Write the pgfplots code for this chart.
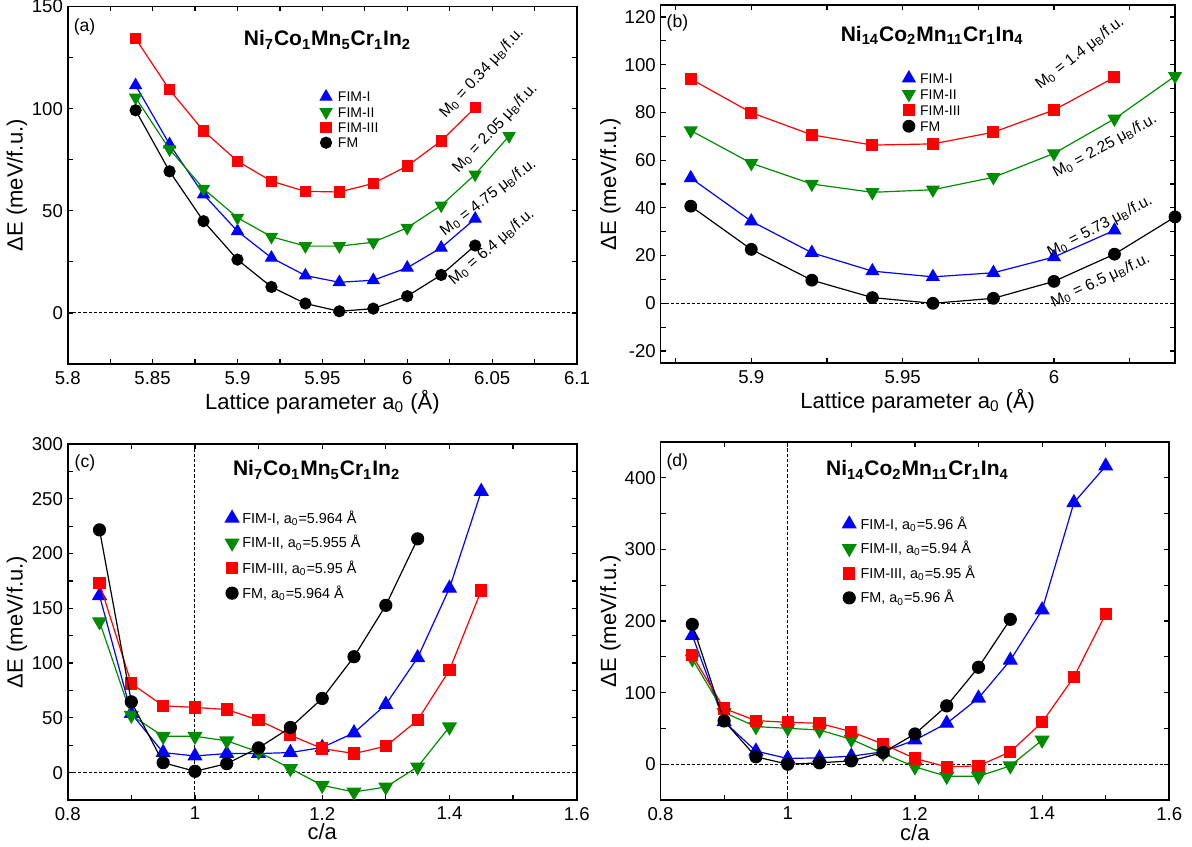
\documentclass[border=0pt]{standalone}
\usepackage{fontspec}
\setmainfont{Liberation Sans}
\usepackage{pgfplots}
\pgfplotsset{compat=1.18}

\definecolor{cblue}{RGB}{0,0,255}
\definecolor{cgreen}{RGB}{0,140,0}
\definecolor{cred}{RGB}{255,0,0}

\pgfplotsset{
  panel/.style={
    scale only axis, anchor=south west,
    axis line style={line width=0.9pt},
    tick align=inside, major tick length=2.5pt, minor tick length=2.5pt,
    every tick/.style={black, line width=0.6pt},
    tick label style={font=\fontsize{9.3}{11}\selectfont},
    yticklabel style={inner xsep=2.2pt},
    /pgf/number format/assume math mode=true,
    label style={font=\fontsize{11}{13}\selectfont},
    ylabel={ΔE (meV/f.u.)},
    clip mode=individual,
    legend image code/.code={\draw[##1,only marks] plot coordinates {(0pt,0pt)};},
    legend cell align=left,
    legend style={draw=none, fill=none, inner sep=0pt, outer sep=0pt, anchor=north west,
      font=\fontsize{7}{8}\selectfont,
      nodes={inner sep=0.5pt, text height=5.5pt, text depth=0.5pt}},
  },
  sI/.style={cblue, line width=0.6pt, mark=triangle*, mark size=#1, mark options={solid, fill=cblue}},
  sII/.style={cgreen, line width=0.6pt, mark=triangle*, mark size=#1, mark options={solid, fill=cgreen, rotate=180}},
  sIII/.style={cred, line width=0.6pt, mark=square*, mark size=#1, mark options={solid, fill=cred}},
  sFM/.style={black, line width=0.6pt, mark=*, mark size=#1, mark options={solid, fill=black}},
  zero/.style={black, line width=0.5pt, dash pattern=on 1.6pt off 1pt, forget plot},
}

\newcommand{\ann}{\fontsize{7.8}{9}\selectfont}
\newcommand{\ttl}{\bfseries\fontsize{10.5}{12}\selectfont}
\newcommand{\tag}{\fontsize{8.8}{10}\selectfont}

\begin{document}
\begin{tikzpicture}
\useasboundingbox (0,0) rectangle (596pt,423pt);

% (a)
\begin{axis}[panel, at={(33.85pt,241pt)}, width=254.65pt, height=178.75pt,
  xmin=5.8, xmax=6.1, ymin=-25, ymax=150,
  xtick={5.8,5.85,5.9,5.95,6,6.05,6.1},
  minor xtick={5.825,5.875,5.925,5.975,6.025,6.075},
  ytick={0,50,100,150}, minor ytick={25,75,125},
  xlabel={Lattice parameter a\textsubscript{0} (Å)},
  xlabel style={at={(axis description cs:0.5,-0.106)}, anchor=center},
  ylabel style={at={(axis description cs:-0.0995,0.5)}, anchor=center},
  legend style={at={(0.496,0.767)}, row sep=0.65pt, /tikz/column sep=2.6pt}]
\addplot[zero] coordinates {(5.8,0) (6.1,0)};
\addplot[sI=3.3pt] coordinates {(5.84,111.4) (5.86,82.5) (5.88,58.0) (5.90,40.0) (5.92,27.0) (5.94,18.3) (5.96,15.0) (5.98,16.0) (6.00,22.1) (6.02,31.9) (6.04,46.1)};
\addplot[sII=3.3pt] coordinates {(5.84,105.4) (5.86,80.1) (5.88,60.8) (5.90,46.6) (5.92,37.3) (5.94,32.7) (5.96,32.7) (5.98,34.6) (6.00,41.7) (6.02,52.6) (6.04,67.8) (6.06,86.6)};
\addplot[sIII=2.5pt] coordinates {(5.84,134.3) (5.86,109.2) (5.88,89.1) (5.90,74.3) (5.92,64.5) (5.94,59.5) (5.96,59.2) (5.98,63.4) (6.00,71.9) (6.02,84.2) (6.04,100.5)};
\addplot[sFM=2.75pt] coordinates {(5.84,99.2) (5.86,69.3) (5.88,44.9) (5.90,26.1) (5.92,12.7) (5.94,4.6) (5.96,0.8) (5.98,2.1) (6.00,8.2) (6.02,18.6) (6.04,33.0)};
\legend{FIM-I, FIM-II, FIM-III, FM}
\node[font=\ttl] at (rel axis cs:0.51,0.906) {Ni\textsubscript{7}Co\textsubscript{1}Mn\textsubscript{5}Cr\textsubscript{1}In\textsubscript{2}};
\node[font=\tag] at (rel axis cs:0.033,0.943) {(a)};
\node[font=\ann, rotate=47.5] at (axis cs:6.044,117.3) {M\textsubscript{0} = 0.34 μ\textsubscript{B}/f.u.};
\node[font=\ann, rotate=47] at (axis cs:6.0518,90.3) {M\textsubscript{0} = 2.05 μ\textsubscript{B}/f.u.};
\node[font=\ann, rotate=37.5] at (axis cs:6.0478,56.5) {M\textsubscript{0} = 4.75 μ\textsubscript{B}/f.u.};
\node[font=\ann, rotate=41] at (axis cs:6.0498,32.1) {M\textsubscript{0} = 6.4 μ\textsubscript{B}/f.u.};
\end{axis}

% (b)
\begin{axis}[panel, at={(330.25pt,241.5pt)}, width=257.25pt, height=179pt,
  xmin=5.87, xmax=6.04, ymin=-25, ymax=125,
  xtick={5.9,5.95,6}, minor xtick={5.875,5.925,5.975,6.025},
  ytick={-20,0,20,40,60,80,100,120}, minor ytick={-10,10,30,50,70,90,110},
  xlabel={Lattice parameter a\textsubscript{0} (Å)},
  xlabel style={at={(axis description cs:0.5,-0.106)}, anchor=center},
  ylabel style={at={(axis description cs:-0.0974,0.5)}, anchor=center},
  legend style={at={(0.471,0.815)}, row sep=1pt, /tikz/column sep=2.1pt}]
\addplot[zero] coordinates {(5.87,0) (6.04,0)};
\addplot[sI=3.5pt] coordinates {(5.88,52.5) (5.90,34.4) (5.92,21.2) (5.94,13.5) (5.96,11.1) (5.98,12.8) (6.00,19.4) (6.02,30.6)};
\addplot[sII=3.5pt] coordinates {(5.88,72.4) (5.90,58.7) (5.92,50.0) (5.94,46.5) (5.96,47.6) (5.98,52.8) (6.00,62.8) (6.02,77.3) (6.04,95.2)};
\addplot[sIII=2.7pt] coordinates {(5.88,94.0) (5.90,79.9) (5.92,70.6) (5.94,66.3) (5.96,66.8) (5.98,71.7) (6.00,81.0) (6.02,94.7)};
\addplot[sFM=2.9pt] coordinates {(5.88,40.7) (5.90,22.6) (5.92,9.7) (5.94,2.4) (5.96,0.0) (5.98,2.1) (6.00,9.2) (6.02,20.6) (6.04,36.2)};
\legend{FIM-I, FIM-II, FIM-III, FM}
\node[font=\ttl] at (rel axis cs:0.528,0.916) {Ni\textsubscript{14}Co\textsubscript{2}Mn\textsubscript{11}Cr\textsubscript{1}In\textsubscript{4}};
\node[font=\tag] at (rel axis cs:0.033,0.949) {(b)};
\node[font=\ann, rotate=38] at (axis cs:6.0086,104.8) {M\textsubscript{0} = 1.4 μ\textsubscript{B}/f.u.};
\node[font=\ann, rotate=29] at (axis cs:6.0169,65.8) {M\textsubscript{0} = 2.25 μ\textsubscript{B}/f.u.};
\node[font=\ann, rotate=27.5] at (axis cs:6.0152,32.1) {M\textsubscript{0} = 5.73 μ\textsubscript{B}/f.u.};
\node[font=\ann, rotate=25] at (axis cs:6.0154,9.4) {M\textsubscript{0} = 6.5 μ\textsubscript{B}/f.u.};
\end{axis}

% (c)
\begin{axis}[panel, at={(33.85pt,23pt)}, width=254.5pt, height=178pt,
  xmin=0.8, xmax=1.6, ymin=-25, ymax=300,
  xtick={0.8,1,1.2,1.4,1.6}, minor xtick={0.9,1.1,1.3,1.5},
  ytick={0,50,100,150,200,250,300}, minor ytick={25,75,125,175,225,275},
  xlabel={c/a},
  xlabel style={at={(axis description cs:0.5,-0.09)}, anchor=center},
  ylabel style={at={(axis description cs:-0.0996,0.5)}, anchor=center},
  legend style={at={(0.310,0.813)}, row sep=5.4pt, /tikz/column sep=1.35pt, font=\fontsize{7.2}{8}\selectfont}]
\addplot[zero] coordinates {(0.8,0) (1.6,0)};
\addplot[zero] coordinates {(1,-25) (1,300)};
\addplot[sI=3.8pt] coordinates {(0.85,161.6) (0.90,54.0) (0.95,18.3) (1.00,15.2) (1.05,17.4) (1.10,17.4) (1.15,18.3) (1.20,23.0) (1.25,36.3) (1.30,62.2) (1.35,104.9) (1.40,168.3) (1.45,256.7)};
\addplot[sII=3.8pt] coordinates {(0.85,137.8) (0.90,52.4) (0.95,33.2) (1.00,33.2) (1.05,29.0) (1.10,18.9) (1.15,3.7) (1.20,-11.6) (1.25,-17.7) (1.30,-13.1) (1.35,5.2) (1.40,41.8)};
\addplot[sIII=2.75pt] coordinates {(0.85,172.9) (0.90,81.4) (0.95,61.0) (1.00,59.5) (1.05,57.6) (1.10,47.9) (1.15,34.1) (1.20,22.0) (1.25,17.4) (1.30,24.1) (1.35,47.9) (1.40,93.6) (1.45,166.2)};
\addplot[sFM=3pt] coordinates {(0.85,221.6) (0.90,64.6) (0.95,9.1) (1.00,1.2) (1.05,8.2) (1.10,22.6) (1.15,41.2) (1.20,67.7) (1.25,105.8) (1.30,152.7) (1.35,213.4)};
\legend{{FIM-I, a\textsubscript{0}=5.964 Å}, {FIM-II, a\textsubscript{0}=5.955 Å}, {FIM-III, a\textsubscript{0}=5.95 Å}, {FM, a\textsubscript{0}=5.964 Å}}
\node[font=\ttl] at (rel axis cs:0.489,0.927) {Ni\textsubscript{7}Co\textsubscript{1}Mn\textsubscript{5}Cr\textsubscript{1}In\textsubscript{2}};
\node[font=\tag] at (rel axis cs:0.034,0.946) {(c)};
\end{axis}

% (d)
\begin{axis}[panel, at={(330.25pt,23pt)}, width=254.4pt, height=179pt,
  xmin=0.8, xmax=1.6, ymin=-50, ymax=450,
  xtick={0.8,1,1.2,1.4,1.6}, minor xtick={0.9,1.1,1.3,1.5},
  ytick={0,100,200,300,400}, minor ytick={50,150,250,350},
  xlabel={c/a},
  xlabel style={at={(axis description cs:0.5,-0.09)}, anchor=center},
  ylabel style={at={(axis description cs:-0.0985,0.5)}, anchor=center},
  legend style={at={(0.358,0.792)}, row sep=5.2pt, /tikz/column sep=1.9pt, font=\fontsize{7.2}{8}\selectfont}]
\addplot[zero] coordinates {(0.8,0) (1.6,0)};
\addplot[zero] coordinates {(1,-50) (1,450)};
\addplot[sI=3.8pt] coordinates {(0.85,179.9) (0.90,59.5) (0.95,18.3) (1.00,8.0) (1.05,8.9) (1.10,11.2) (1.15,17.3) (1.20,33.7) (1.25,57.1) (1.30,92.3) (1.35,145.2) (1.40,215.5) (1.45,365.3) (1.50,416.4)};
\addplot[sII=3.8pt] coordinates {(0.85,147.0) (0.90,72.1) (0.95,52.5) (1.00,50.1) (1.05,47.8) (1.10,34.7) (1.15,15.0) (1.20,-3.7) (1.25,-16.9) (1.30,-16.9) (1.35,-2.3) (1.40,33.7)};
\addplot[sIII=2.75pt] coordinates {(0.85,152.2) (0.90,77.8) (0.95,60.9) (1.00,58.5) (1.05,57.1) (1.10,45.4) (1.15,28.1) (1.20,8.0) (1.25,-3.7) (1.30,-2.3) (1.35,17.3) (1.40,58.5) (1.45,121.8) (1.50,209.8)};
\addplot[sFM=3pt] coordinates {(0.85,195.3) (0.90,60.4) (0.95,10.3) (1.00,0.0) (1.05,1.9) (1.10,4.7) (1.15,16.4) (1.20,42.2) (1.25,81.5) (1.30,135.4) (1.35,202.3)};
\legend{{FIM-I, a\textsubscript{0}=5.96 Å}, {FIM-II, a\textsubscript{0}=5.94 Å}, {FIM-III, a\textsubscript{0}=5.95 Å}, {FM, a\textsubscript{0}=5.96 Å}}
\node[font=\ttl] at (rel axis cs:0.505,0.922) {Ni\textsubscript{14}Co\textsubscript{2}Mn\textsubscript{11}Cr\textsubscript{1}In\textsubscript{4}};
\node[font=\tag] at (rel axis cs:0.033,0.945) {(d)};
\end{axis}
\end{tikzpicture}
\end{document}
